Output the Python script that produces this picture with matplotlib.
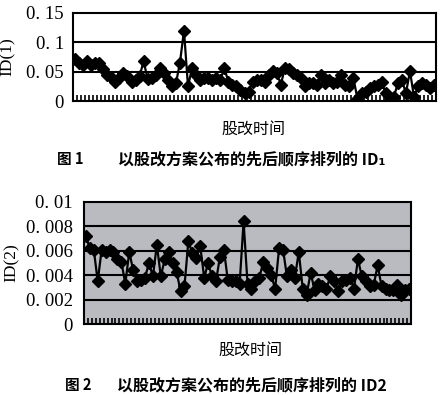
import matplotlib
matplotlib.use("Agg")
import matplotlib.pyplot as plt
import numpy as np

id1 = [0.071, 0.065, 0.062, 0.068, 0.062, 0.065, 0.065, 0.054, 0.045, 0.041,
       0.033, 0.039, 0.048, 0.042, 0.032, 0.036, 0.042, 0.068, 0.037, 0.039,
       0.045, 0.056, 0.048, 0.036, 0.025, 0.030, 0.065, 0.120, 0.025, 0.056,
       0.045, 0.036, 0.039, 0.039, 0.036, 0.039, 0.036, 0.056, 0.033, 0.028,
       0.025, 0.019, 0.013, 0.016, 0.033, 0.036, 0.036, 0.033, 0.045, 0.051,
       0.048, 0.028, 0.056, 0.054, 0.048, 0.045, 0.039, 0.025, 0.030, 0.030,
       0.028, 0.045, 0.030, 0.036, 0.030, 0.033, 0.045, 0.028, 0.025, 0.039,
       0.003, 0.013, 0.016, 0.022, 0.025, 0.028, 0.032, 0.013, 0.002, 0.007,
       0.030, 0.036, 0.013, 0.051, 0.007, 0.025, 0.030, 0.028, 0.022, 0.028]

id2 = [0.0072, 0.0062, 0.0061, 0.0035, 0.0061, 0.0059, 0.0061, 0.0059, 0.0053, 0.0051,
       0.0033, 0.0059, 0.0044, 0.0035, 0.0036, 0.0038, 0.0050, 0.0039, 0.0065, 0.0039,
       0.0053, 0.0059, 0.0050, 0.0043, 0.0027, 0.0031, 0.0068, 0.0058, 0.0054, 0.0064,
       0.0038, 0.0050, 0.0039, 0.0035, 0.0055, 0.0061, 0.0036, 0.0035, 0.0035, 0.0033,
       0.0084, 0.0033, 0.0029, 0.0035, 0.0038, 0.0051, 0.0046, 0.0040, 0.0029, 0.0062,
       0.0061, 0.0039, 0.0044, 0.0038, 0.0059, 0.0029, 0.0024, 0.0042, 0.0028, 0.0033,
       0.0031, 0.0029, 0.0039, 0.0035, 0.0027, 0.0035, 0.0036, 0.0038, 0.0029, 0.0053,
       0.0039, 0.0035, 0.0031, 0.0032, 0.0048, 0.0031, 0.0029, 0.0028, 0.0028, 0.0032,
       0.0024, 0.0028, 0.0029]

yticks1 = [0, 0.05, 0.1, 0.15]
ylabels1 = ["0", "0. 05", "0. 1", "0. 15"]
yticks2 = [0, 0.002, 0.004, 0.006, 0.008, 0.01]
ylabels2 = ["0", "0. 002", "0. 004", "0. 006", "0. 008", "0. 01"]

num_font = ["Liberation Serif", "Noto Sans CJK SC"]
cjk_font = ["Noto Sans CJK SC", "DejaVu Sans"]

fig = plt.figure(figsize=(4.44, 3.95), dpi=100)
fig.patch.set_facecolor("white")


def draw(ax, data, yticks, ylabels, ymax, ylab, bg, pad):
    n = len(data)
    x = np.arange(n) + 0.5
    ax.set_facecolor(bg)
    for v in yticks[1:-1]:
        ax.axhline(v, color="black", lw=1.5, zorder=1)
    ax.plot(x, data, color="black", lw=1.6, marker="D", ms=6.3,
            mfc="black", mec="black", zorder=3)
    ax.set_xlim(0, n)
    ax.set_ylim(0, ymax)
    ax.set_xticks(np.arange(n + 1))
    ax.set_xticklabels([])
    ax.tick_params(axis="x", direction="in", length=4, width=1.2, color="black")
    ax.set_yticks(yticks)
    ax.set_yticklabels(ylabels, fontfamily=num_font, fontsize=13.5)
    ax.tick_params(axis="y", length=0, pad=pad)
    for s in ax.spines.values():
        s.set_linewidth(1.5)
        s.set_color("black")
    ax.set_ylabel(ylab, fontfamily=num_font, fontsize=12.5)


ax1 = fig.add_axes([0.1644, 0.7443, 0.818, 0.2228])
draw(ax1, id1, yticks1, ylabels1, 0.15, "ID(1)", "white", 6.5)
ax1.yaxis.set_label_coords(-0.158, 0.5)

ax2 = fig.add_axes([0.189, 0.1797, 0.737, 0.309])
draw(ax2, id2, yticks2, ylabels2, 0.01, "ID(2)", "#b9bbc1", 8)
ax2.yaxis.set_label_coords(-0.197, 0.5)

fig.text(253 / 444, 1 - 129 / 395, "股改时间", ha="center", va="center",
         fontfamily=cjk_font, fontsize=11.5)
fig.text(70 / 444, 1 - 159 / 395, "图 1", ha="center", va="center",
         fontfamily=cjk_font, fontsize=10.5, fontweight="bold")
fig.text(252 / 444, 1 - 159 / 395, "以股改方案公布的先后顺序排列的 ID₁",
         ha="center", va="center", fontfamily=cjk_font, fontsize=11.5, fontweight="bold")

fig.text(250 / 444, 1 - 350 / 395, "股改时间", ha="center", va="center",
         fontfamily=cjk_font, fontsize=11.5)
fig.text(78 / 444, 1 - 385 / 395, "图 2", ha="center", va="center",
         fontfamily=cjk_font, fontsize=10.5, fontweight="bold")
fig.text(252 / 444, 1 - 385 / 395, "以股改方案公布的先后顺序排列的 ID2",
         ha="center", va="center", fontfamily=cjk_font, fontsize=11.5, fontweight="bold")

fig.savefig("out.png", dpi=100)
